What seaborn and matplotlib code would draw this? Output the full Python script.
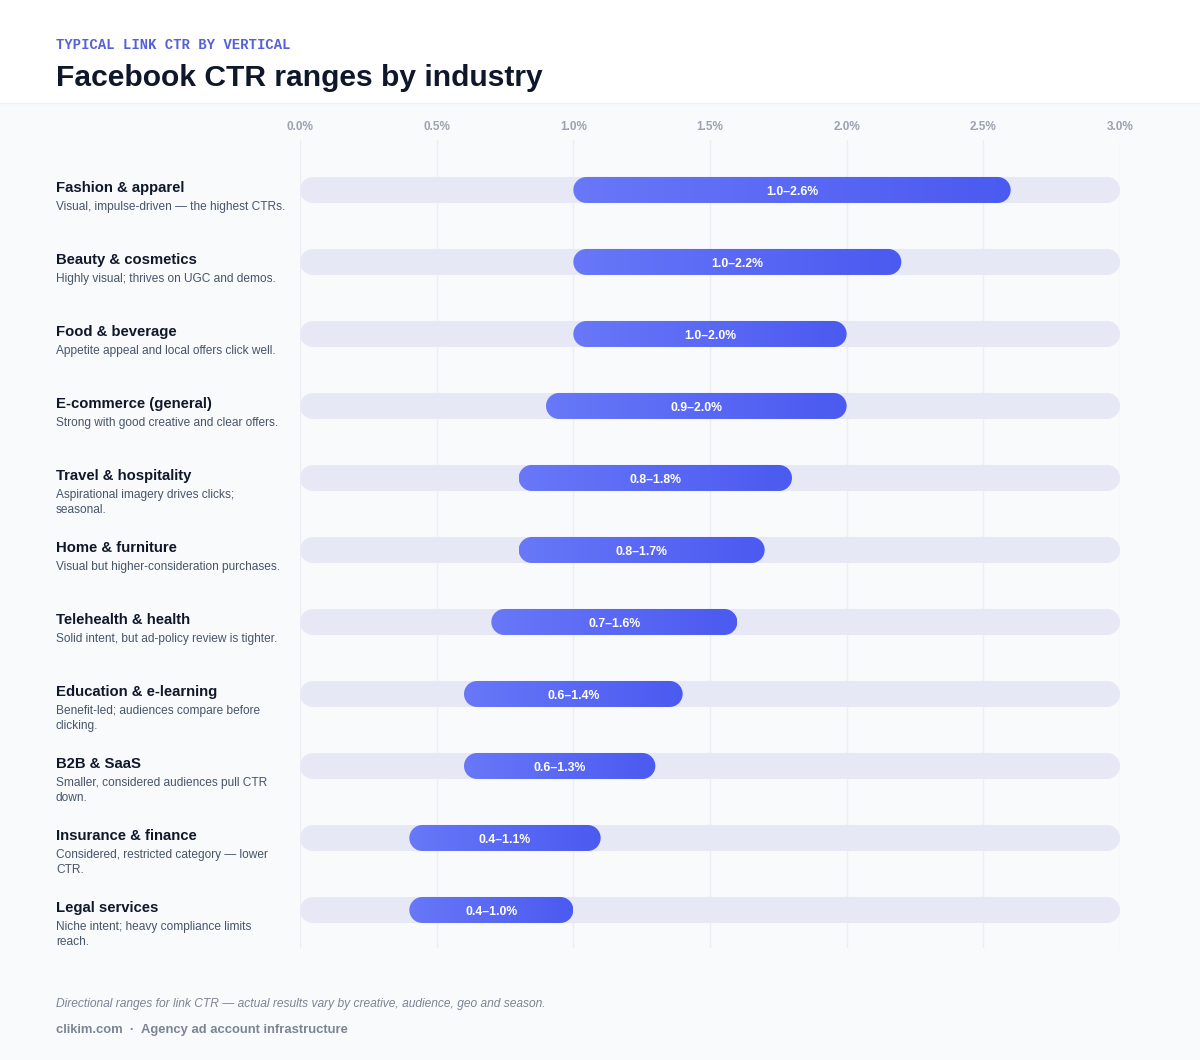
import numpy as np
import matplotlib
matplotlib.use("Agg")
import matplotlib.pyplot as plt
import matplotlib.transforms as mtransforms
from matplotlib.patches import Polygon, Rectangle
from matplotlib.colors import LinearSegmentedColormap
import seaborn as sns

# data
industries = ["Fashion & apparel", "Beauty & cosmetics", "Food & beverage",
              "E-commerce (general)", "Travel & hospitality", "Home & furniture",
              "Telehealth & health", "Education & e-learning", "B2B & SaaS",
              "Insurance & finance", "Legal services"]
notes = ["Visual, impulse-driven — the highest CTRs.",
         "Highly visual; thrives on UGC and demos.",
         "Appetite appeal and local offers click well.",
         "Strong with good creative and clear offers.",
         "Aspirational imagery drives clicks;\nseasonal.",
         "Visual but higher-consideration purchases.",
         "Solid intent, but ad-policy review is tighter.",
         "Benefit-led; audiences compare before\nclicking.",
         "Smaller, considered audiences pull CTR\ndown.",
         "Considered, restricted category — lower\nCTR.",
         "Niche intent; heavy compliance limits\nreach."]
ctr_low = [1.0, 1.0, 1.0, 0.9, 0.8, 0.8, 0.7, 0.6, 0.6, 0.4, 0.4]
ctr_high = [2.6, 2.2, 2.0, 2.0, 1.8, 1.7, 1.6, 1.4, 1.3, 1.1, 1.0]
axis_max = [3.0] * len(industries)
x_ticks = [0.0, 0.5, 1.0, 1.5, 2.0, 2.5, 3.0]

BG = "#f8fafc"
TRACK = "#e6e8f5"
INK = "#0f172a"
MUTED = "#475569"
GRAY = "#9ca3af"
bar_cmap = LinearSegmentedColormap.from_list("bar", ["#6878f8", "#4b5af0"])

sns.set_theme(style="white")
plt.rcParams["font.family"] = ["Liberation Sans", "DejaVu Sans"]

W, H = 1200, 1060
fig = plt.figure(figsize=(W / 100, H / 100), dpi=100, facecolor=BG)
# white header band
fig.patches.append(Rectangle((0, 1 - 103 / H), 1, 103 / H, transform=fig.transFigure,
                             facecolor="white", edgecolor="none", zorder=0))
fig.add_artist(plt.Line2D([0, 1], [1 - 103 / H] * 2, transform=fig.transFigure,
                          color="#eef1f5", lw=1))

ax = fig.add_axes([300 / W, (H - 948) / H, 820 / W, 808 / H])
ax.set_facecolor(BG)

bar_h = 26 / 72
sns.barplot(x=axis_max, y=industries, orient="h", width=bar_h, color=TRACK,
            saturation=1, ax=ax)
sns.barplot(x=ctr_high, y=industries, orient="h", width=bar_h, color="#5a69f4",
            saturation=1, ax=ax)

ylim = (10.528, -0.694)
ax.set_xlim(0, 3.0)
ax.set_ylim(*ylim)

# pixel scale, for the round ends
px_x = 820 / 3.0
px_y = 72.0


def pill(x0, x1, y0, h, **kw):
    yc = y0 + h / 2
    ry = h / 2
    rx = ry * px_y / px_x
    t = np.linspace(np.pi / 2, 3 * np.pi / 2, 30)
    left = np.column_stack([x0 + rx + rx * np.cos(t), yc - ry * np.sin(t)])
    t2 = np.linspace(-np.pi / 2, np.pi / 2, 30)
    right = np.column_stack([x1 - rx + rx * np.cos(t2), yc - ry * np.sin(t2)])
    return Polygon(np.vstack([left, right]), closed=True, **kw)


rects = list(ax.patches)
n = len(industries)
tracks, ranges = rects[:n], rects[n:]
for rect in tracks:
    y0, h = rect.get_y(), rect.get_height()
    rect.remove()
    ax.add_patch(pill(0, 3.0, y0, h, facecolor=TRACK, edgecolor="none", zorder=2))

grad = np.linspace(0, 1, 256).reshape(1, -1)
for i, rect in enumerate(ranges):
    y0, h = rect.get_y(), rect.get_height()
    rect.remove()
    lo, hi = ctr_low[i], ctr_high[i]
    shape = pill(lo, hi, y0, h, facecolor="none", edgecolor="none", zorder=3)
    ax.add_patch(shape)
    im = ax.imshow(grad, cmap=bar_cmap, extent=[lo, hi, y0 + h, y0],
                   aspect="auto", zorder=3, interpolation="bilinear")
    im.set_clip_path(shape)
    ax.text((lo + hi) / 2, i + 2 / 72, f"{lo:.1f}–{hi:.1f}%", ha="center",
            va="center", color="white", fontsize=8.8, fontweight="bold", zorder=4)

ax.set_xlim(0, 3.0)
ax.set_ylim(*ylim)

# axes styling
ax.xaxis.tick_top()
ax.set_xticks(x_ticks)
ax.set_xticklabels([f"{v:.1f}%" for v in x_ticks], color=GRAY,
                   fontsize=8.5, fontweight="bold")
ax.tick_params(axis="x", length=0, pad=5)
ax.set_yticks([])
ax.set_ylabel("")
ax.set_xlabel("")
ax.grid(axis="x", color="#eceef3", lw=1, zorder=0)
ax.set_axisbelow(True)
sns.despine(ax=ax, left=True, bottom=True)
for s in ax.spines.values():
    s.set_visible(False)

# row labels on the left
lab = mtransforms.blended_transform_factory(fig.transFigure, ax.transData)
for i, (name, note) in enumerate(zip(industries, notes)):
    ax.text(56 / W, i - 2 / 72, name, transform=lab, ha="left", va="center",
            fontsize=10.75, fontweight="bold", color=INK, clip_on=False)
    ax.text(56 / W, i + 11 / 72, note, transform=lab, ha="left", va="top",
            fontsize=8.6, color=MUTED, linespacing=1.3, clip_on=False)

# header and footer
fig.text(56 / W, 1 - 45 / H, "TYPICAL LINK CTR BY VERTICAL", ha="left", va="center",
         family=["Liberation Mono", "DejaVu Sans Mono"], fontweight="bold",
         fontsize=10, color="#5561d8")
fig.text(56 / W, 1 - 78 / H, "Facebook CTR ranges by industry", ha="left",
         va="center", fontsize=21.6, fontweight="bold", color=INK)
fig.text(56 / W, 1 - 1004 / H,
         "Directional ranges for link CTR — actual results vary by creative, audience, geo and season.",
         ha="left", va="center", fontsize=8.65, style="italic", color="#7c8594")
fig.text(56 / W, 1 - 1030 / H, "clikim.com  ·  Agency ad account infrastructure",
         ha="left", va="center", fontsize=9.35, fontweight="bold", color="#7c8594")

fig.savefig("out.png", dpi=100, facecolor=BG)
